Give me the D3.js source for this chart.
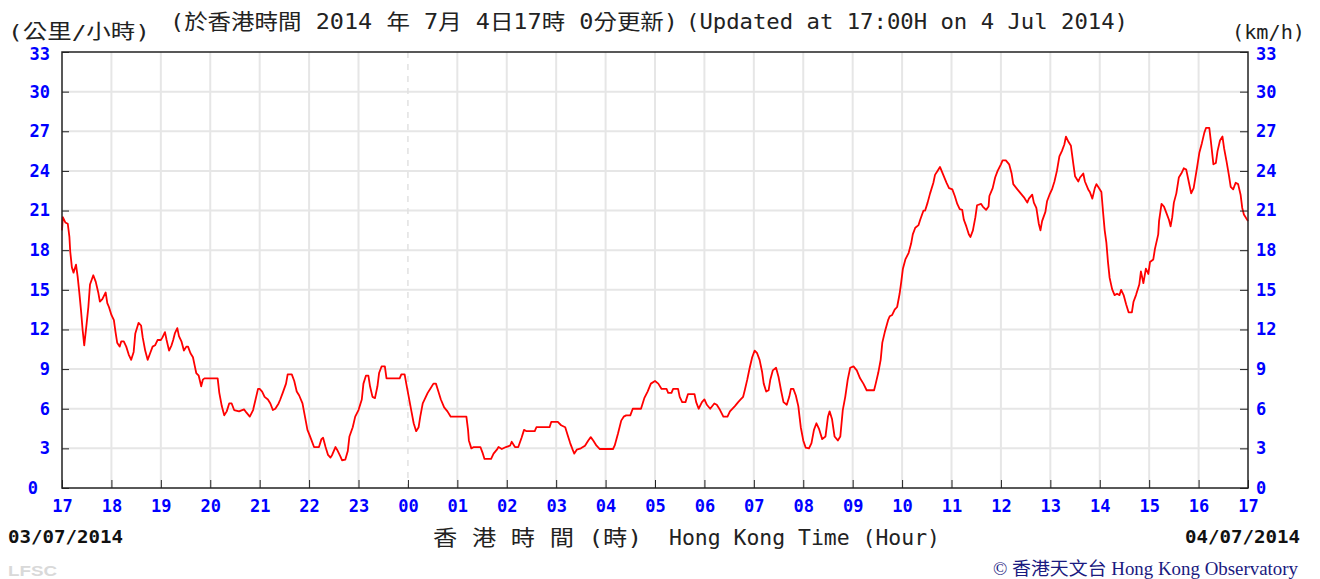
<!DOCTYPE html>
<html><head><meta charset="utf-8">
<script src="https://cdn.jsdelivr.net/npm/d3@7"></script>
<style>body{margin:0;background:#fff}</style>
</head><body><svg id="c" width="1320" height="579"></svg>
<script>
// minutes since 17:00 on 03/07/2014
const minutes=[0,1,4,7,9,10,12,14,17,19,21,23,25,27,30,32,34,38,41,44,46,49,53,55,57,60,
63,65,67,70,72,75,78,81,84,87,89,93,96,98,101,104,107,110,113,116,120,
122,125,127,130,133,135,137,140,142,145,148,151,153,156,159,161,163,166,169,171,173,180,
189,191,194,197,200,203,206,209,215,221,224,228,232,235,238,240,
243,246,250,253,256,259,263,265,268,272,274,279,282,285,288,292,295,298,300,
303,306,312,315,317,320,323,326,328,332,334,338,340,344,347,349,353,356,360,
364,366,369,372,374,377,380,383,385,388,392,394,410,412,416,418,
421,424,427,430,433,435,438,441,444,447,451,454,457,460,464,468,472,480,
491,493,494,497,500,508,511,513,521,524,528,530,534,539,
544,546,550,554,558,561,564,574,576,592,594,
602,606,611,614,617,620,622,625,630,635,639,642,645,649,653,
669,671,675,679,682,685,690,693,703,707,711,715,
720,724,728,734,736,740,742,748,750,753,757,760,768,770,773,777,
780,783,787,792,795,799,803,808,811,817,821,824,827,829,832,835,838,
841,844,847,850,852,855,858,860,863,867,870,873,876,880,883,885,888,891,894,897,
900,903,907,910,913,916,919,923,927,930,932,935,938,942,945,948,951,954,957,
961,965,969,973,977,986,988,991,994,996,999,1003,1005,1008,1011,1014,1017,1019,
1021,1024,1028,1031,1033,1036,1040,1042,1046,1048,1051,1054,1058,1060,1063,1066,1070,1074,1077,
1081,1084,1087,1090,1093,1095,1098,1101,1103,1106,1109,1111,1116,1118,1122,1125,1126,1130,1133,1136,
1140,1142,1146,1150,1153,1155,1160,1164,1168,1172,1174,1178,1180,1183,1186,1188,1190,1194,1196,1199,
1202,1205,1208,1211,1214,1217,1219,1222,1225,1228,1230,1234,1236,1240,1242,1246,1248,1251,1254,1256,1259,
1262,1264,1266,1268,1270,1272,1275,1278,1281,1284,1286,1289,1292,1295,1299,1301,1304,1308,1310,1313,1316,1319,
1321,1325,1327,1331,1332,1335,1338,1341,1344,1346,1348,1350,1353,1356,1359,1362,1365,1368,1371,1374,1378,
1381,1384,1387,1389,1393,1395,1398,1401,1403,1406,1409,1411,1414,1417,1419,1422,1425,1428,1431,1433,1435,1440];
// wind speed, km/h
const speeds=[19.5,20.5,20.1,20.0,19.0,17.9,16.7,16.3,16.9,16.0,14.8,13.5,12.0,10.8,12.5,13.7,15.4,16.1,15.6,14.8,14.1,14.3,14.8,14.0,13.7,13.1,
12.7,11.8,11.0,10.7,11.1,11.1,10.7,10.1,9.7,10.3,11.7,12.5,12.3,11.4,10.4,9.7,10.2,10.7,10.8,11.2,11.2,
11.4,11.8,11.2,10.4,10.8,11.2,11.7,12.1,11.5,11.1,10.4,10.7,10.7,10.2,9.9,9.3,8.7,8.5,7.7,8.2,8.3,8.3,
8.3,7.2,6.2,5.5,5.8,6.4,6.4,5.9,5.8,5.95,5.7,5.4,5.9,6.7,7.5,7.5,
7.3,6.9,6.7,6.4,5.9,6.0,6.4,6.7,7.2,7.9,8.6,8.6,8.1,7.3,7.0,6.4,5.4,4.4,4.1,
3.6,3.1,3.1,3.7,3.8,3.1,2.5,2.3,2.5,3.1,2.9,2.4,2.1,2.15,2.8,3.9,4.6,5.4,5.9,
6.7,7.9,8.5,8.5,7.7,6.9,6.8,7.7,8.7,9.2,9.2,8.3,8.3,8.6,8.6,7.9,
6.9,5.9,4.9,4.3,4.6,5.4,6.4,6.8,7.2,7.5,7.9,7.9,7.3,6.7,6.1,5.8,5.4,5.4,
5.4,4.4,3.6,3.0,3.1,3.1,2.6,2.2,2.2,2.6,2.9,3.1,2.95,3.1,
3.2,3.5,3.1,3.1,3.8,4.4,4.3,4.3,4.6,4.6,5.0,
5.0,4.75,4.6,4.0,3.4,2.9,2.6,2.9,3.0,3.2,3.6,3.85,3.6,3.2,2.95,
2.95,3.2,4.1,5.1,5.4,5.5,5.5,6.0,6.0,6.8,7.3,7.9,
8.1,7.9,7.5,7.5,7.2,7.2,7.5,7.5,6.9,6.5,6.5,7.1,7.1,6.5,6.0,6.5,
6.7,6.3,6.0,6.4,6.3,5.9,5.4,5.4,5.8,6.2,6.5,6.7,6.9,7.4,8.2,9.1,9.9,
10.4,10.2,9.7,8.8,7.9,7.3,7.4,8.2,8.9,9.1,8.4,7.4,6.5,6.3,6.9,7.5,7.5,7.0,6.2,4.6,
3.6,3.05,3.0,3.4,4.4,4.9,4.5,3.7,3.9,5.4,5.8,5.2,3.9,3.6,3.9,5.9,6.9,8.2,9.1,
9.2,8.9,8.3,7.9,7.4,7.4,7.9,8.7,9.7,11.0,11.8,12.7,13.0,13.1,13.5,13.7,14.7,15.6,
16.6,17.3,17.8,18.5,19.2,19.7,19.9,20.3,21.0,21.0,21.6,22.3,23.1,23.7,24.0,24.3,23.7,23.1,22.7,
22.6,22.1,21.5,21.1,21.05,20.3,19.8,19.2,19.0,19.5,20.5,21.4,21.5,21.3,21.05,21.3,22.1,22.7,23.5,24.0,
24.5,24.8,24.8,24.5,23.8,23.0,22.6,22.3,22.0,21.6,21.9,22.2,21.6,21.2,20.0,19.5,20.2,20.9,21.7,22.2,
22.6,23.2,24.0,25.1,25.5,26.0,26.6,26.2,25.9,24.5,23.6,23.2,23.5,23.8,23.2,22.6,22.4,21.9,22.7,23.0,22.7,
22.4,20.9,19.5,18.6,17.1,15.9,15.05,14.6,14.7,14.6,15.0,14.6,13.9,13.3,13.3,14.1,14.6,15.4,16.4,15.5,16.6,16.2,
17.1,17.3,18.1,19.2,20.2,21.5,21.3,20.8,20.3,19.8,20.5,21.6,22.3,23.5,23.8,24.2,24.1,23.2,22.3,22.7,24.2,
25.4,26.1,26.9,27.25,27.25,26.2,24.5,24.6,25.5,26.3,26.6,25.7,24.7,23.6,22.8,22.6,23.1,23.0,22.2,21.2,20.7,20.2];

const hourTicks=d3.range(0,1441,60);
const hourLabels=["17","18","19","20","21","22","23","00","01","02","03","04","05","06","07","08","09","10","11","12","13","14","15","16","17"];
const speedTicks=[0,3,6,9,12,15,18,21,24,27,30,33];
const titleZh="(於香港時間 2014 年 7月 4日17時 0分更新)";
const titleEn="(Updated at 17:00H on 4 Jul 2014)";
const unitZh="(公里/小時)";
const unitEn="(km/h)";
const axisZh="香 港 時 間 (時)";
const axisEn="Hong Kong Time (Hour)";
const dateStart="03/07/2014";
const dateEnd="04/07/2014";
const credit="© 香港天文台 Hong Kong Observatory";

const mono="'DejaVu Sans Mono','Noto Sans CJK TC',monospace";
const svg=d3.select("#c");
svg.append("rect").attr("width",1320).attr("height",579).attr("fill","#fff");

const L=62,R=1248,T=52,B=488;
const x=d3.scaleLinear().domain([0,1440]).range([L,R]);
const y=d3.scaleLinear().domain([0,33]).range([B,T]);

// grid
const g=svg.append("g");
g.selectAll("line.h").data(speedTicks.slice(1,-1)).join("line")
 .attr("x1",L).attr("x2",R).attr("y1",d=>y(d)).attr("y2",d=>y(d))
 .attr("stroke","#e6e6e6").attr("stroke-width",2);
g.selectAll("line.v").data(hourTicks.slice(1,-1)).join("line")
 .attr("x1",d=>x(d)).attr("x2",d=>x(d)).attr("y1",T).attr("y2",B)
 .attr("stroke",d=>d===420?"#e2e2e2":"#e6e6e6").attr("stroke-width",d=>d===420?1.5:2)
 .attr("stroke-dasharray",d=>d===420?"6,6":null);

// line
const line=d3.line().x((d,i)=>x(minutes[i])).y(d=>y(d));
svg.append("path").datum(speeds).attr("d",line).attr("fill","none")
 .attr("stroke","#ff0000").attr("stroke-width",1.8).attr("stroke-linejoin","round");

// frame
svg.append("rect").attr("x",L).attr("y",T).attr("width",R-L).attr("height",B-T)
 .attr("fill","none").attr("stroke","#222").attr("stroke-width",1.5);

function styleAxis(sel){
  sel.select(".domain").remove();
  sel.selectAll(".tick line").attr("stroke","#222");
  sel.selectAll("text").attr("fill","#0000ff").attr("font-family",mono)
     .attr("font-weight","bold").attr("font-size",17);
}
const ax=svg.append("g").attr("transform",`translate(0,${B})`)
 .call(d3.axisBottom(x).tickValues(hourTicks).tickSize(-8).tickPadding(12).tickFormat((d,i)=>hourLabels[i]));
styleAxis(ax);
const ayl=svg.append("g").attr("transform",`translate(${L},0)`)
 .call(d3.axisLeft(y).tickValues(speedTicks).tickSize(-7).tickPadding(12).tickFormat(d3.format("d")));
styleAxis(ayl);
ayl.selectAll(".tick text").filter(d=>d===0).attr("x",-24);
ayl.selectAll(".tick text").filter(d=>d===33).attr("dy","0.42em");
const ayr=svg.append("g").attr("transform",`translate(${R},0)`)
 .call(d3.axisRight(y).tickValues(speedTicks).tickSize(-8).tickPadding(8).tickFormat(d3.format("d")));
styleAxis(ayr);
ayr.selectAll(".tick text").filter(d=>d===33).attr("dy","0.42em");

// texts
function txt(s,xp,yp,opts){
  const t=svg.append("text").attr("x",xp).attr("y",yp).text(s)
   .attr("font-family",opts.ff||mono).attr("font-size",opts.fs||21)
   .attr("fill",opts.fill||"#222").attr("font-weight",opts.fw||"normal")
   .attr("text-anchor",opts.anchor||"start");
  if(opts.len) t.attr("textLength",opts.len).attr("lengthAdjust","spacingAndGlyphs");
  return t;
}
txt(titleZh,170,29,{len:508});
txt(titleEn,686,29,{len:442});
txt(unitZh,8,39,{fs:20,len:142});
txt(unitEn,1232,39,{fs:19,len:73});
txt(axisZh,433,545,{len:209});
txt(axisEn,669,545,{len:271});
txt(dateStart,8,543,{fw:"bold",fs:18,fill:"#111",len:115});
txt(dateEnd,1300,543,{fw:"bold",fs:18,fill:"#111",len:115,anchor:"end"});
txt("LFSC",8,576,{ff:"'Liberation Sans',Arial,sans-serif",fw:"bold",fs:14,fill:"#d9d9d9",len:49});
txt(credit,993,575,{ff:"'Liberation Serif','Noto Sans CJK TC',serif",fs:18,fill:"#1a1a80",len:305});
</script></body></html>
